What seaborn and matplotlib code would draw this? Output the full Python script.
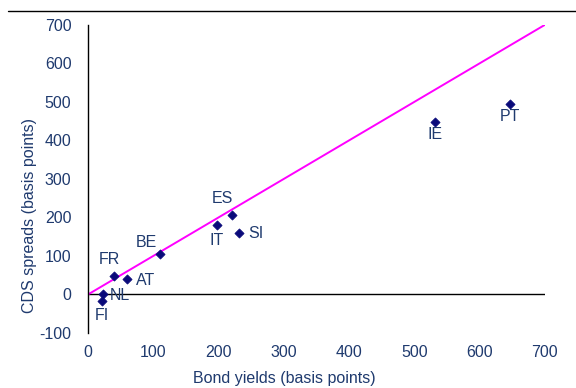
import matplotlib
matplotlib.use("Agg")
import matplotlib.pyplot as plt
import seaborn as sns
import pandas as pd
from matplotlib.lines import Line2D

countries = ["FI", "NL", "FR", "AT", "BE", "IT", "ES", "SI", "IE", "PT"]
bond_yields = [21, 23, 39, 59, 110, 197, 220, 231, 531, 647]
cds_spreads = [-16, 2, 47, 39, 106, 179, 207, 159, 448, 495]
# label offsets (points) relative to each marker
label_dx = [0, 12, -3, 14, -10, 0, -7, 12, 0, 0]
label_dy = [-11, -1, 12, -1, 8, -11, 12, 0, -9, -9]
line_x = [0, 700]
line_y = [0, 700]
ticks = [0, 100, 200, 300, 400, 500, 600, 700]
yticks = [-100, 0, 100, 200, 300, 400, 500, 600, 700]

sns.set_theme(style="white")
plt.rcParams["font.family"] = ["Liberation Sans", "DejaVu Sans"]
plt.rcParams["axes.unicode_minus"] = False
txt = "#1f3a6e"
fs = 11.5

df = pd.DataFrame({"country": countries, "x": bond_yields, "y": cds_spreads})
line_df = pd.DataFrame({"x": line_x, "y": line_y})

fig = plt.figure(figsize=(5.76, 3.88), dpi=100)
ax = fig.add_axes([0.153, 0.142, 0.793, 0.794])

sns.lineplot(data=line_df, x="x", y="y", color="#ff00ff", lw=1.4, ax=ax, zorder=2)
sns.scatterplot(data=df, x="x", y="y", marker="D", color="#0a0a7a", s=22,
                edgecolor="#0a0a7a", linewidth=0.5, ax=ax, zorder=3)
ax.axhline(0, color="black", lw=1.0, zorder=1)

for c, xv, yv, dx, dy in zip(countries, bond_yields, cds_spreads, label_dx, label_dy):
    ax.annotate(c, (xv, yv), xytext=(dx, dy), textcoords="offset points",
                ha="center", va="center", fontsize=fs, color=txt)

ax.set_xlim(0, 700)
ax.set_ylim(-100, 700)
ax.set_xticks(ticks)
ax.set_yticks(yticks)
for s in ["top", "right", "bottom"]:
    ax.spines[s].set_visible(False)
ax.spines["left"].set_color("black")
ax.spines["left"].set_linewidth(1.0)
ax.tick_params(axis="x", length=0, pad=9, labelsize=fs, labelcolor=txt)
ax.tick_params(axis="y", length=0, pad=12, labelsize=fs, labelcolor=txt)

ax.set_xlabel("Bond yields (basis points)", fontsize=fs, color=txt)
ax.set_ylabel("CDS spreads (basis points)", fontsize=fs, color=txt)
ax.xaxis.set_label_coords(0.429, -0.125)
ax.yaxis.set_label_coords(-0.112, 0.38)

fig.add_artist(Line2D([8 / 576, 1.0], [1 - 11 / 388, 1 - 11 / 388], color="black", lw=1.0))

fig.savefig("out.png", dpi=100)
